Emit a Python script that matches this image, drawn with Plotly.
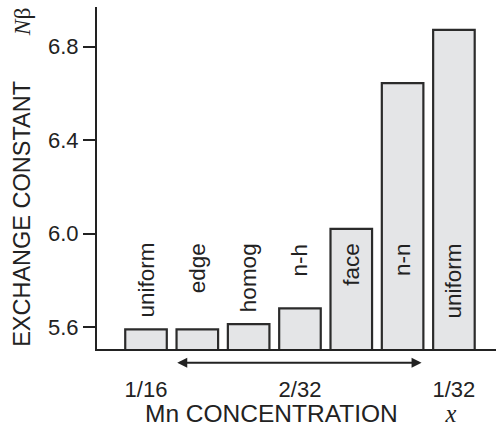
import plotly.graph_objects as go

configs = ["uniform", "edge", "homog", "n-h", "face", "n-n", "uniform"]
nbeta = [5.59, 5.59, 5.612, 5.68, 6.02, 6.643, 6.871]
conc_ticks = ["1/16", "2/32", "1/32"]
conc_tick_pos = [0, 3, 6]
y_ticks = [5.6, 6.0, 6.4, 6.8]

xs = list(range(len(configs)))
INK = "#222222"
SANS = "Liberation Sans, Arial, sans-serif"
GAP = "\u00a0" * 7

fig = go.Figure()
fig.add_trace(go.Bar(
    x=xs, y=nbeta, width=0.81,
    marker=dict(color="#e4e5e7", line=dict(color="#2b2b2b", width=2.2)),
    hoverinfo="skip", showlegend=False,
))

for xi, lab in zip(xs, configs):
    fig.add_annotation(x=xi, y=5.968, text=lab, textangle=-90, showarrow=False,
                       xanchor="center", yanchor="top",
                       font=dict(family=SANS, size=22.5, color=INK))

# double-headed arrow spanning the 2/32 configurations
fig.add_annotation(x=5.37, y=-0.04, xref="x", yref="paper",
                   ax=0.58, ay=0, axref="x", ayref="pixel",
                   text="", showarrow=True, arrowside="end+start",
                   arrowhead=2, arrowsize=1.0, arrowwidth=2, arrowcolor=INK)

fig.add_annotation(x=-0.19, y=0.501, xref="paper", yref="paper",
                   text="EXCHANGE CONSTANT" + GAP + "<span style='font-family:Liberation Serif'><i>N</i>β</span>",
                   textangle=-90, showarrow=False, xanchor="center", yanchor="middle",
                   font=dict(family=SANS, size=23.5, color=INK))
fig.add_annotation(x=0.51, y=-0.19, xref="paper", yref="paper",
                   text="Mn CONCENTRATION" + GAP + "<span style='font-family:Liberation Serif'><i>x</i></span>",
                   showarrow=False, xanchor="center", yanchor="middle",
                   font=dict(family=SANS, size=24.5, color=INK))

fig.update_layout(
    width=496, height=432,
    margin=dict(l=97, r=0, t=7, b=83),
    paper_bgcolor="white", plot_bgcolor="white",
    bargap=0.15,
    xaxis=dict(range=[-0.955, 6.82], showline=True, linewidth=2, linecolor=INK,
               showgrid=False, zeroline=False, ticks="",
               tickvals=conc_tick_pos, ticktext=conc_ticks,
               tickfont=dict(family=SANS, size=22, color=INK),
               ticklabelstandoff=20),
    yaxis=dict(range=[5.506, 6.969], showline=True, linewidth=2, linecolor=INK,
               showgrid=False, zeroline=False, ticks="outside", ticklen=12,
               tickwidth=2, tickcolor=INK,
               tickvals=y_ticks, ticktext=[f"{v:.1f}" for v in y_ticks],
               tickfont=dict(family=SANS, size=22, color=INK)),
)

fig.write_html("out.html")
